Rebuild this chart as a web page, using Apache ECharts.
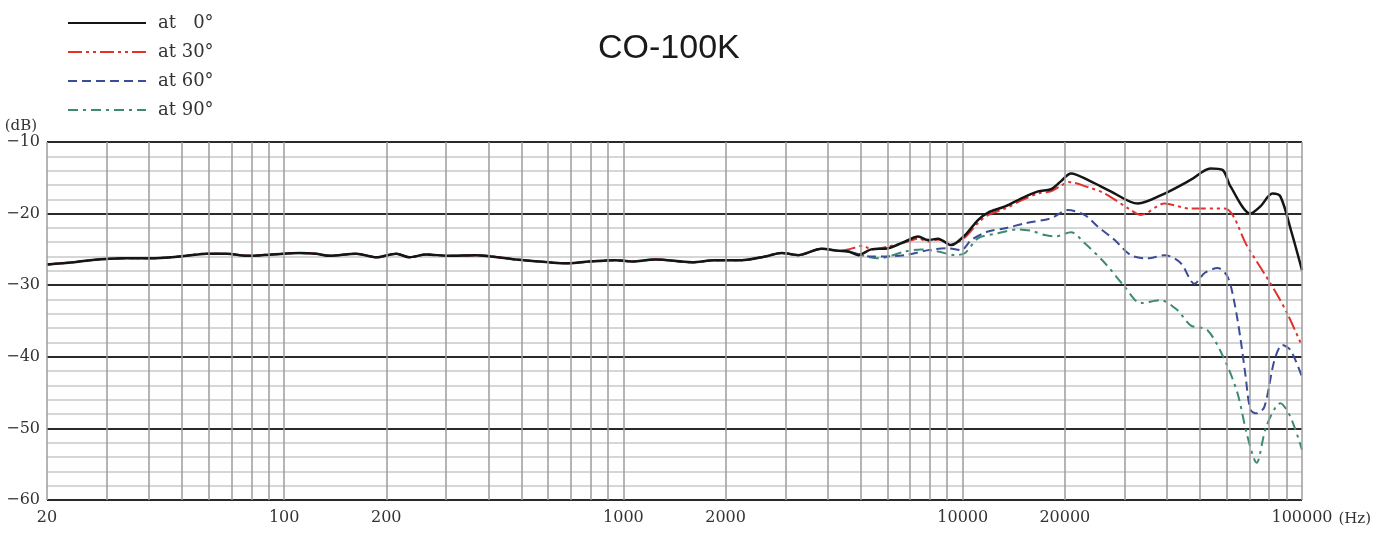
<!DOCTYPE html>
<html>
<head>
<meta charset="utf-8">
<script src="https://cdn.jsdelivr.net/npm/echarts@6/dist/echarts.min.js"></script>
<style>html,body{margin:0;padding:0;background:#fff;}#c{width:1384px;height:533px;}</style>
</head>
<body>
<div id="c"></div>
<script>
// Shared low-frequency response (all angles coincide)
const sharedFreq = [20,23.9,26.8,33.5,40.2,49.2,59.1,67.7,77.5,92.4,111,124,136,163,187,214,234,262,306,367,481,603,690,791,948,1058,1242,1592,1866,2229,2618,2922,3279,3838,4300];
const sharedDb = [-27.1,-26.8,-26.5,-26.25,-26.25,-26.0,-25.6,-25.6,-25.9,-25.7,-25.5,-25.6,-25.9,-25.6,-26.1,-25.6,-26.1,-25.7,-25.9,-25.8,-26.4,-26.8,-26.95,-26.7,-26.5,-26.7,-26.4,-26.8,-26.5,-26.5,-26.0,-25.5,-25.8,-24.9,-25.2];

// at 0°
const freq0 = [4600,4923,5374,6030,6767,7392,7908,8460,9243,10160,11090,11880,13330,14850,16670,18200,19460,20840,23840,27300,32810,39360,46940,53760,58300,61540,70480,75400,81800,86340,93000,100000];
const db0 = [-25.3,-25.8,-25.0,-24.85,-23.9,-23.2,-23.7,-23.5,-24.4,-23.0,-20.9,-19.85,-19.0,-17.9,-16.9,-16.6,-15.5,-14.4,-15.5,-16.9,-18.6,-17.2,-15.3,-13.7,-13.9,-16.2,-20.0,-19.0,-17.2,-17.6,-22.5,-27.9];

// at 30°
const freq30 = [4600,5092,5374,6030,6767,7392,7908,8460,9243,10160,11090,11880,13330,14850,16670,18200,19460,20500,23380,26240,31280,33490,39360,46940,59110,69030,83000,90580,100000];
const db30 = [-25.0,-24.5,-25.0,-24.6,-24.0,-23.5,-23.9,-23.6,-24.3,-23.3,-21.3,-20.2,-19.3,-18.2,-17.2,-16.9,-16.1,-15.6,-16.3,-17.2,-19.5,-20.2,-18.6,-19.3,-19.3,-24.6,-30.7,-34.0,-38.5];

// at 60°
const freq60 = [4600,5374,6767,7908,9052,9890,10590,11880,13330,15250,18200,20400,22900,25000,28060,31280,35080,39360,43880,48220,51640,56370,60330,63250,65890,68100,70480,73460,77460,83000,87500,92480,100000];
const db60 = [-25.3,-26.0,-25.8,-25.1,-24.85,-25.1,-23.7,-22.5,-22.05,-21.35,-20.65,-19.5,-20.2,-21.8,-23.7,-25.8,-26.25,-25.8,-26.9,-29.8,-28.3,-27.6,-28.8,-32.5,-37.5,-42.5,-47.4,-47.9,-47.0,-40.4,-38.35,-39.05,-42.8];

// at 90°
const freq90 = [4600,5636,6767,7537,8460,9490,10160,11090,12700,14550,15890,17470,18710,20840,22900,26240,30000,33490,38300,42960,46940,52680,59110,64560,69030,73460,78520,86340,92480,100000];
const db90 = [-25.3,-26.25,-25.3,-25.0,-25.3,-25.8,-25.5,-23.45,-22.75,-22.2,-22.4,-23.0,-23.2,-22.6,-24.15,-26.9,-30.2,-32.5,-32.1,-33.5,-35.6,-36.3,-40.4,-45.1,-51.1,-54.8,-49.7,-46.5,-48.4,-53.0];

const seriesNames = ['at \u20070°', 'at 30°', 'at 60°', 'at 90°'];
const xLabelValues = [20, 100, 200, 1000, 2000, 10000, 20000, 100000];
const gridFreqs = [];
[10, 100, 1000, 10000].forEach(d => { for (let k = 1; k <= 9; k++) { const f = k * d; if (f >= 20 && f <= 100000) gridFreqs.push(f); } });
gridFreqs.push(100000);

function pairs(fs, ds) { return fs.map((f, i) => [f, ds[i]]); }
function full(fs, ds) { return pairs(sharedFreq, sharedDb).concat(pairs(fs, ds)); }

const serif = 'DejaVu Serif';
const chart = echarts.init(document.getElementById('c'), null, { renderer: 'canvas' });
chart.setOption({
  animation: false,
  backgroundColor: '#fff',
  title: {
    text: 'CO-100K', left: 593, top: 27,
    textStyle: { fontFamily: 'Liberation Sans', fontSize: 34, fontWeight: 'normal', color: '#1a1a1a' }
  },
  legend: {
    data: seriesNames, orient: 'vertical', left: 62, top: 9,
    itemWidth: 78, itemHeight: 16, itemGap: 11, selectedMode: false,
    itemStyle: { opacity: 0 },
    textStyle: { fontFamily: serif, fontSize: 18, color: '#333', padding: [0, 0, 0, 7] }
  },
  grid: { left: 47, right: 82, top: 142, bottom: 33 },
  xAxis: {
    type: 'log', logBase: 10, min: 20, max: 100000,
    name: '(Hz)', nameLocation: 'end', nameGap: 36,
    nameTextStyle: { fontFamily: serif, fontSize: 15, color: '#333', verticalAlign: 'top', padding: [12, 0, 0, 0] },
    axisLine: { show: false }, axisTick: { show: false },
    splitLine: { show: false }, minorSplitLine: { show: false },
    axisLabel: {
      customValues: xLabelValues, margin: 10,
      fontFamily: serif, fontSize: 16, color: '#333',
      formatter: v => String(Math.round(v))
    }
  },
  yAxis: {
    type: 'value', min: -60, max: -10, interval: 10,
    name: '(dB)', nameLocation: 'end', nameGap: 5,
    nameTextStyle: { fontFamily: serif, fontSize: 15, color: '#333', align: 'right', padding: [0, 10, 0, 0] },
    axisLine: { show: false }, axisTick: { show: false },
    axisLabel: { margin: 7, fontFamily: serif, fontSize: 16, color: '#333', formatter: v => (v < 0 ? '\u2212' + Math.abs(v) : String(v)) },
    splitLine: { show: true, lineStyle: { color: '#2a2a2a', width: 2 } },
    minorTick: { show: false, splitNumber: 5 },
    minorSplitLine: { show: true, lineStyle: { color: '#c9c9c9', width: 1.5 } }
  },
  series: [
    {
      name: 'grid', type: 'line', data: [], silent: true, z: 1,
      markLine: {
        silent: true, symbol: 'none', animation: false,
        label: { show: false },
        lineStyle: { color: '#9c9c9c', width: 1.5, type: 'solid' },
        data: gridFreqs.map(f => ({ xAxis: f }))
      }
    },
    {
      name: seriesNames[3], type: 'line', data: full(freq90, db90), showSymbol: false, symbol: 'none', smooth: 0.3, z: 3,
      lineStyle: { color: '#3d8a74', width: 2, type: [10, 5, 3, 5] }, itemStyle: { color: '#3d8a74' }
    },
    {
      name: seriesNames[2], type: 'line', data: full(freq60, db60), showSymbol: false, symbol: 'none', smooth: 0.3, z: 3,
      lineStyle: { color: '#3b4c98', width: 2, type: [9, 5] }, itemStyle: { color: '#3b4c98' }
    },
    {
      name: seriesNames[1], type: 'line', data: full(freq30, db30), showSymbol: false, symbol: 'none', smooth: 0.3, z: 3,
      lineStyle: { color: '#e3312c', width: 2, type: [14, 4, 3, 4, 3, 4] }, itemStyle: { color: '#e3312c' }
    },
    {
      name: seriesNames[0], type: 'line', data: full(freq0, db0), showSymbol: false, symbol: 'none', smooth: 0.3, z: 4,
      lineStyle: { color: '#151515', width: 2.5 }, itemStyle: { color: '#151515' }
    }
  ]
});
</script>
</body>
</html>
